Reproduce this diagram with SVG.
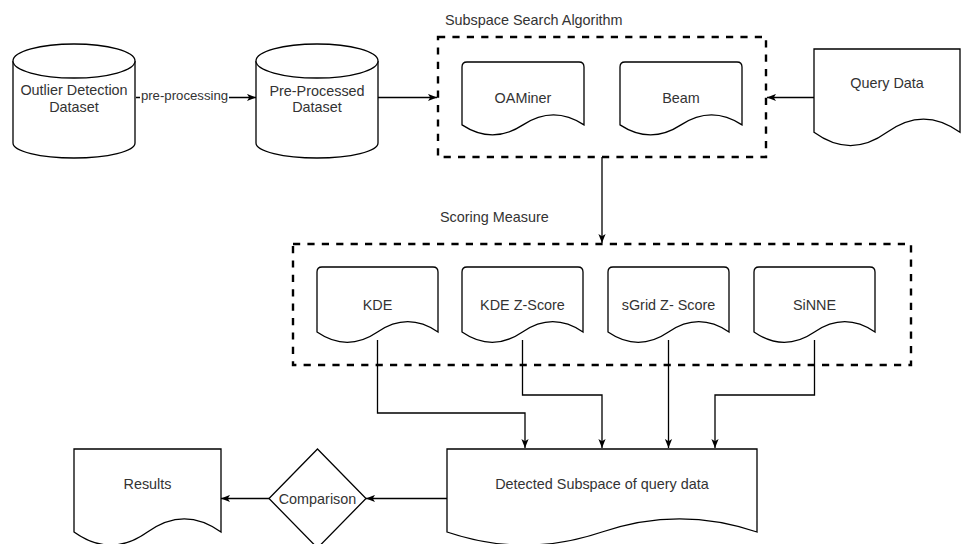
<svg xmlns="http://www.w3.org/2000/svg" width="963" height="544" viewBox="0 0 963 544">
<style>
.shape{fill:#fff;stroke:#000;stroke-width:1.3}
.group{fill:none;stroke:#000;stroke-width:2.4;stroke-dasharray:7.2 7.2}
.edge{fill:none;stroke:#000;stroke-width:1.3}
text{font-family:"Liberation Sans",Arial,sans-serif;font-size:14.4px;fill:#333;text-anchor:middle}
.lbl{text-anchor:start}
.el{font-size:13.2px}
</style>
<defs>
<marker id="arr" markerUnits="userSpaceOnUse" viewBox="0 0 9 8" markerWidth="9" markerHeight="8" refX="9" refY="4" orient="auto">
<path d="M0,0.4 L9,4 L0,7.6 L2.2,4 Z" fill="#000"/>
</marker>
</defs>
<rect width="963" height="544" fill="#fff"/>

<g id="subspace-group">
<rect class="group" x="438" y="37" width="328" height="120"/>
<text class="lbl" x="445" y="25">Subspace Search Algorithm</text>
</g>
<g id="scoring-group">
<rect class="group" x="293" y="244" width="618" height="121"/>
<text class="lbl" x="440" y="222">Scoring Measure</text>
</g>

<g id="connectors">
<path class="edge" d="M136,97.5 H256" marker-end="url(#arr)"/>
<rect x="140" y="87" width="89" height="16" fill="#fff"/>
<text class="el" x="184.5" y="99.5">pre-processing</text>
<path class="edge" d="M378,97.5 H437" marker-end="url(#arr)"/>
<path class="edge" d="M814,97.5 H767" marker-end="url(#arr)"/>
<path class="edge" d="M602,157 V243" marker-end="url(#arr)"/>
<path class="edge" d="M377.5,340 V413 H525 V448" marker-end="url(#arr)"/>
<path class="edge" d="M522.5,340 V395 H602 V448" marker-end="url(#arr)"/>
<path class="edge" d="M668.5,340 V448" marker-end="url(#arr)"/>
<path class="edge" d="M814.5,340 V395 H715 V448" marker-end="url(#arr)"/>
<path class="edge" d="M447,498.5 H366" marker-end="url(#arr)"/>
<path class="edge" d="M269,498.5 H221" marker-end="url(#arr)"/>
</g>

<g id="outlier-dataset">
<path class="shape" d="M13,61 A61,17 0 0 1 135,61 V143 A61,15 0 0 1 13,143 Z"/>
<path class="shape" d="M13,61 A61,17 0 0 0 135,61"/>
<text x="74" y="95">Outlier Detection</text>
<text x="74" y="112">Dataset</text>
</g>

<g id="preprocessed-dataset">
<path class="shape" d="M256,61 A61,17 0 0 1 378,61 V143 A61,15 0 0 1 256,143 Z"/>
<path class="shape" d="M256,61 A61,17 0 0 0 378,61"/>
<text x="317" y="96">Pre-Processed</text>
<text x="317" y="112">Dataset</text>
</g>

<g id="oaminer">
<path class="shape" d="M462,67 Q462,62 467,62 H579 Q584,62 584,67 V124.9 Q553.5,104.9 523,124.9 Q492.5,144.9 462,124.9 Z"/>
<text x="523" y="103">OAMiner</text>
</g>
<g id="beam">
<path class="shape" d="M620,67 Q620,62 625,62 H737 Q742,62 742,67 V124.9 Q711.5,104.9 681,124.9 Q650.5,144.9 620,124.9 Z"/>
<text x="681" y="103">Beam</text>
</g>
<g id="query-data">
<path class="shape" d="M814,49 H960 V132.3 Q923.5,105.8 887,132.3 Q850.5,158.8 814,132.3 Z"/>
<text x="887" y="88">Query Data</text>
</g>

<g id="kde">
<path class="shape" d="M317,272 Q317,267 322,267 H433 Q438,267 438,272 V332 Q407.75,311.4 377.5,332 Q347.25,352.7 317,332 Z"/>
<text x="377.5" y="310">KDE</text>
</g>
<g id="kde-zscore">
<path class="shape" d="M462,272 Q462,267 467,267 H578 Q583,267 583,272 V332 Q552.75,311.4 522.5,332 Q492.25,352.7 462,332 Z"/>
<text x="522.5" y="310">KDE Z-Score</text>
</g>
<g id="sgrid-zscore">
<path class="shape" d="M608,272 Q608,267 613,267 H724 Q729,267 729,272 V332 Q698.75,311.4 668.5,332 Q638.25,352.7 608,332 Z"/>
<text x="668.5" y="310">sGrid Z- Score</text>
</g>
<g id="sinne">
<path class="shape" d="M754,272 Q754,267 759,267 H870 Q875,267 875,272 V332 Q844.75,311.4 814.5,332 Q784.25,352.7 754,332 Z"/>
<text x="814.5" y="310">SiNNE</text>
</g>

<g id="detected-subspace">
<path class="shape" d="M447,449 H757 V532 Q679.5,505.6 602,532 Q524.5,558.3 447,532 Z"/>
<text x="602" y="489">Detected Subspace of query data</text>
</g>
<g id="comparison">
<path class="shape" d="M317.5,449 L366,498.5 L317.5,548 L269,498.5 Z"/>
<text x="317.5" y="504">Comparison</text>
</g>
<g id="results">
<path class="shape" d="M74,449 H221 V532 Q184.25,505.6 147.5,532 Q110.75,558.3 74,532 Z"/>
<text x="147.5" y="489">Results</text>
</g>
</svg>
